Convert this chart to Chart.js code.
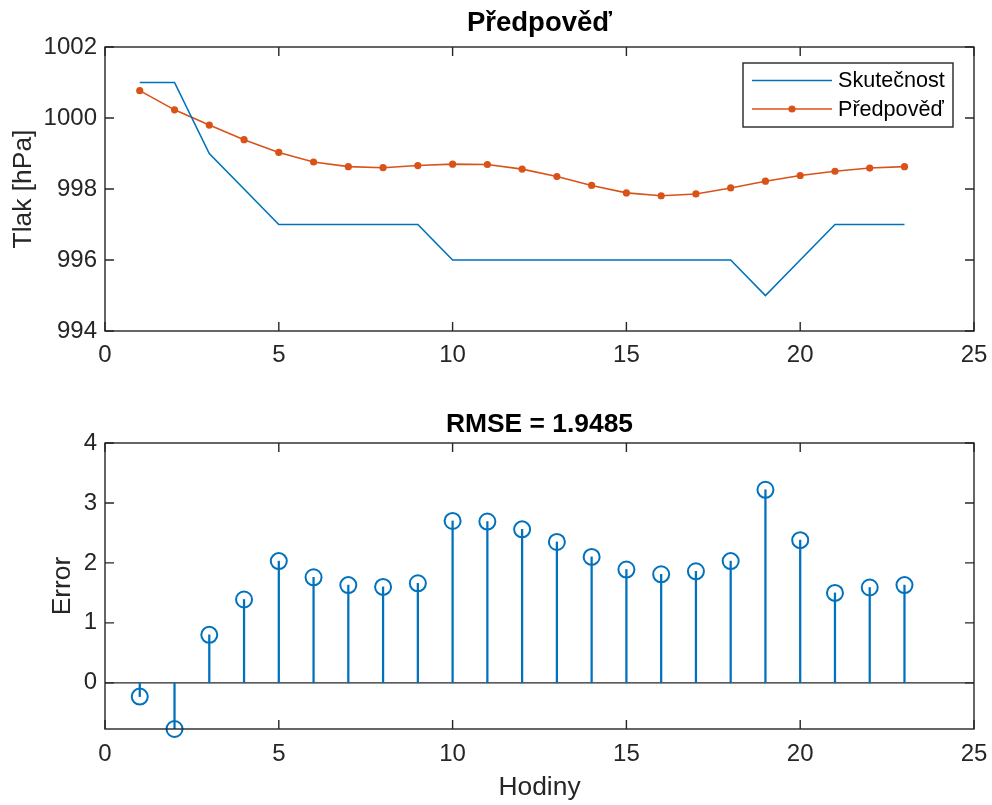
<!DOCTYPE html>
<html>
<head>
<meta charset="utf-8">
<title>Předpověď</title>
<script src="https://cdn.jsdelivr.net/npm/chart.js@4.4.0/dist/chart.umd.min.js"></script>
<style>
  body { margin: 0; background: #fff; }
  canvas { position: absolute; left: 0; }
  #pressureChart { top: 0; }
  #errorChart { top: 400px; }
</style>
</head>
<body>
<canvas id="pressureChart" width="992" height="400"></canvas>
<canvas id="errorChart" width="992" height="405"></canvas>
<script>
// Data
const hours = [1, 2, 3, 4, 5, 6, 7, 8, 9, 10, 11, 12, 13, 14, 15, 16, 17, 18, 19, 20, 21, 22, 23];
const actual = [1001, 1001, 999, 998, 997, 997, 997, 997, 997, 996, 996, 996,
                996, 996, 996, 996, 996, 996, 995, 996, 997, 997, 997];
const forecast = [1000.77, 1000.23, 999.80, 999.39, 999.03, 998.76, 998.63, 998.60, 998.66, 998.70, 998.69, 998.56,
                  998.35, 998.10, 997.89, 997.81, 997.86, 998.03, 998.22, 998.38, 998.50, 998.59, 998.63];
const errors = [-0.23, -0.77, 0.80, 1.39, 2.03, 1.76, 1.63, 1.60, 1.66, 2.70, 2.69, 2.56,
                2.35, 2.10, 1.89, 1.81, 1.86, 2.03, 3.22, 2.38, 1.50, 1.59, 1.63];

const xTicks = [0, 5, 10, 15, 20, 25];
const pressureTicks = [994, 996, 998, 1000, 1002];
const errorTicks = [0, 1, 2, 3, 4];
const errorMin = -0.77;

const BLUE = '#0072BD';
const ORANGE = '#D95319';
const AXIS = '#262626';
const FONT = "'Liberation Sans', Arial, Helvetica, sans-serif";
const TICK_LEN = 9;

Chart.defaults.font.family = FONT;
Chart.defaults.color = AXIS;

// Box round the axes with MATLAB-like inward ticks on all four sides
const axesBox = {
    id: 'axesBox',
    beforeDatasetsDraw(chart, args, opts) {
        if (!opts.zeroLine) return;
        const { ctx, chartArea: a, scales: { y } } = chart;
        const py = y.getPixelForValue(0);
        ctx.save();
        ctx.strokeStyle = AXIS;
        ctx.lineWidth = 1.3;
        ctx.beginPath();
        ctx.moveTo(a.left, py);
        ctx.lineTo(a.right, py);
        ctx.stroke();
        ctx.restore();
    },
    afterDatasetsDraw(chart) {
        const { ctx, chartArea: a, scales: { x, y } } = chart;
        ctx.save();
        ctx.strokeStyle = AXIS;
        ctx.lineWidth = 1.4;
        ctx.beginPath();
        x.ticks.forEach(t => {
            const px = x.getPixelForValue(t.value);
            ctx.moveTo(px, a.bottom); ctx.lineTo(px, a.bottom - TICK_LEN);
            ctx.moveTo(px, a.top); ctx.lineTo(px, a.top + TICK_LEN);
        });
        y.ticks.forEach(t => {
            const py = y.getPixelForValue(t.value);
            ctx.moveTo(a.left, py); ctx.lineTo(a.left + TICK_LEN, py);
            ctx.moveTo(a.right, py); ctx.lineTo(a.right - TICK_LEN, py);
        });
        ctx.stroke();
        ctx.strokeRect(a.left, a.top, a.right - a.left, a.bottom - a.top);
        ctx.restore();
    }
};

// Bold title centred over the plot area
const plotTitle = {
    id: 'plotTitle',
    afterDraw(chart, args, opts) {
        const { ctx, chartArea: a } = chart;
        ctx.save();
        ctx.fillStyle = '#000';
        ctx.font = 'bold ' + opts.size + 'px ' + FONT;
        ctx.textAlign = 'center';
        ctx.textBaseline = 'alphabetic';
        ctx.fillText(opts.text, (a.left + a.right) / 2, opts.baseline);
        ctx.restore();
    }
};

// Boxed legend in the upper right corner
const boxLegend = {
    id: 'boxLegend',
    afterDraw(chart, args, opts) {
        if (!opts.display) return;
        const { ctx } = chart;
        const { left, top, width, height } = opts;
        ctx.save();
        ctx.fillStyle = '#fff';
        ctx.fillRect(left, top, width, height);
        ctx.strokeStyle = AXIS;
        ctx.lineWidth = 1.4;
        ctx.strokeRect(left, top, width, height);
        ctx.font = '21.6px ' + FONT;
        ctx.textBaseline = 'middle';
        chart.data.datasets.forEach((ds, i) => {
            const rowY = top + 17.5 + i * 28.5;
            ctx.strokeStyle = ds.borderColor;
            ctx.lineWidth = ds.borderWidth;
            ctx.beginPath();
            ctx.moveTo(left + 9, rowY);
            ctx.lineTo(left + 89, rowY);
            ctx.stroke();
            if (ds.pointRadius > 0) {
                ctx.fillStyle = ds.pointBackgroundColor;
                ctx.beginPath();
                ctx.arc(left + 49, rowY, ds.pointRadius, 0, Math.PI * 2);
                ctx.fill();
            }
            ctx.fillStyle = '#000';
            ctx.fillText(ds.label, left + 95, rowY + 1);
        });
        ctx.restore();
    }
};

function xScale(height, padding) {
    return {
        type: 'linear',
        min: 0,
        max: 25,
        offset: false,
        afterBuildTicks: s => { s.ticks = xTicks.map(v => ({ value: v })); },
        afterFit: s => { s.height = height; s.paddingLeft = 0; s.paddingRight = 0; },
        grid: { display: false, drawTicks: false },
        border: { display: false },
        ticks: { padding: padding, font: { size: 24 }, color: AXIS, callback: v => String(v) }
    };
}

function yScale(min, max, ticks, titleText, titlePad) {
    return {
        type: 'linear',
        min: min,
        max: max,
        afterBuildTicks: s => { s.ticks = ticks.map(v => ({ value: v })); },
        afterFit: s => { s.width = 105; s.paddingTop = 0; s.paddingBottom = 0; },
        grid: { display: false, drawTicks: false },
        border: { display: false },
        ticks: { padding: 8, font: { size: 24 }, color: AXIS, callback: v => String(v) },
        title: {
            display: true,
            text: titleText,
            color: AXIS,
            font: { size: 26.4 },
            padding: { top: titlePad, bottom: 0 }
        }
    };
}

new Chart(document.getElementById('pressureChart'), {
    type: 'line',
    data: {
        datasets: [
            {
                label: 'Skutečnost',
                data: hours.map((h, i) => ({ x: h, y: actual[i] })),
                borderColor: BLUE,
                borderWidth: 1.6,
                pointRadius: 0,
                tension: 0
            },
            {
                label: 'Předpověď',
                data: hours.map((h, i) => ({ x: h, y: forecast[i] })),
                borderColor: ORANGE,
                borderWidth: 1.6,
                pointRadius: 3.6,
                pointBackgroundColor: ORANGE,
                pointBorderWidth: 0,
                tension: 0
            }
        ]
    },
    options: {
        responsive: false,
        animation: false,
        layout: { padding: { left: 0, top: 47, right: 18, bottom: 0 } },
        scales: {
            x: xScale(69, 10),
            y: yScale(994, 1002, pressureTicks, 'Tlak [hPa]', 8)
        },
        plugins: {
            legend: { display: false },
            tooltip: { enabled: false },
            plotTitle: { text: 'Předpověď', baseline: 31, size: 27.5 },
            boxLegend: { display: true, left: 743, top: 63, width: 210, height: 64 }
        }
    },
    plugins: [axesBox, plotTitle, boxLegend]
});

new Chart(document.getElementById('errorChart'), {
    type: 'bar',
    data: {
        datasets: [
            {
                type: 'bar',
                label: 'stem',
                data: hours.map((h, i) => ({ x: h, y: errors[i] })),
                backgroundColor: BLUE,
                borderWidth: 0,
                barThickness: 1.6
            },
            {
                type: 'line',
                label: 'Error',
                data: hours.map((h, i) => ({ x: h, y: errors[i] })),
                showLine: false,
                clip: false,
                pointRadius: 8,
                pointBorderWidth: 2,
                pointBorderColor: BLUE,
                pointBackgroundColor: 'rgba(0,0,0,0)'
            }
        ]
    },
    options: {
        responsive: false,
        animation: false,
        layout: { padding: { left: 0, top: 43, right: 18, bottom: 0 } },
        scales: {
            x: {
                ...xScale(76, 11),
                title: {
                    display: true,
                    text: 'Hodiny',
                    color: AXIS,
                    font: { size: 26.4 },
                    padding: { top: 0, bottom: 1 }
                }
            },
            y: yScale(errorMin, 4, errorTicks, 'Error', 47)
        },
        plugins: {
            legend: { display: false },
            tooltip: { enabled: false },
            axesBox: { zeroLine: true },
            plotTitle: { text: 'RMSE = 1.9485', baseline: 32, size: 26.4 },
            boxLegend: { display: false }
        }
    },
    plugins: [axesBox, plotTitle, boxLegend]
});
</script>
</body>
</html>
